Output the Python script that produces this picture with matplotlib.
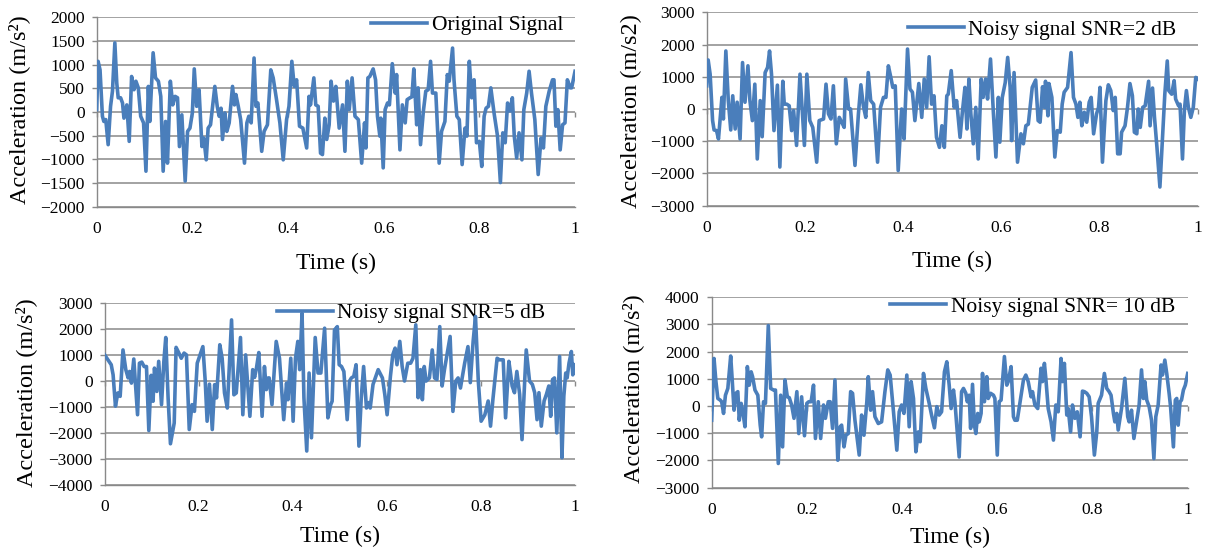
"""Acceleration time histories: the original signal and three noisy copies
(SNR = 2, 5 and 10 dB), drawn as a 2x2 grid of Excel-style line charts.

    python3 plot.py        # -> out.png
"""
import numpy as np
import matplotlib
matplotlib.use("Agg")
import matplotlib.pyplot as plt

LINE = "#4a7ebb"
GRID = "#898989"
INK = "#000000"

plt.rcParams.update({
    "font.family": "Liberation Serif",
    "font.size": 12,
    "axes.edgecolor": GRID,
    "axes.linewidth": 1.0,
    "grid.color": GRID,
    "grid.linewidth": 1.1,
    "xtick.color": INK,
    "ytick.color": GRID,
    "ytick.labelcolor": INK,
})

# ---- original signal -----------------------------------------------------
t_orig = [
    0.000, 0.003, 0.007, 0.012, 0.015, 0.019, 0.024, 0.029, 0.033, 0.038,
    0.042, 0.045, 0.050, 0.054, 0.057, 0.063, 0.068, 0.073, 0.078, 0.082,
    0.087, 0.092, 0.098, 0.103, 0.108, 0.111, 0.118, 0.123, 0.129, 0.134,
    0.139, 0.144, 0.148, 0.154, 0.159, 0.164, 0.169, 0.173, 0.178, 0.185,
    0.190, 0.195, 0.200, 0.204, 0.209, 0.214, 0.220, 0.224, 0.229, 0.233,
    0.238, 0.247, 0.252, 0.256, 0.260, 0.263, 0.268, 0.272, 0.277, 0.284,
    0.288, 0.291, 0.296, 0.301, 0.309, 0.314, 0.318, 0.323, 0.329, 0.333,
    0.337, 0.345, 0.350, 0.357, 0.364, 0.369, 0.376, 0.383, 0.390, 0.397,
    0.402, 0.408, 0.413, 0.418, 0.424, 0.431, 0.439, 0.444, 0.447, 0.454,
    0.458, 0.463, 0.468, 0.472, 0.477, 0.481, 0.486, 0.490, 0.495, 0.500,
    0.507, 0.514, 0.519, 0.524, 0.528, 0.534, 0.540, 0.547, 0.554, 0.560,
    0.563, 0.567, 0.571, 0.578, 0.583, 0.587, 0.592, 0.594, 0.599, 0.603,
    0.608, 0.612, 0.618, 0.624, 0.627, 0.634, 0.639, 0.645, 0.649, 0.655,
    0.659, 0.663, 0.669, 0.672, 0.677, 0.683, 0.688, 0.693, 0.698, 0.702,
    0.709, 0.716, 0.721, 0.728, 0.733, 0.737, 0.744, 0.747, 0.753, 0.758,
    0.764, 0.770, 0.774, 0.779, 0.784, 0.789, 0.794, 0.800, 0.805, 0.810,
    0.814, 0.819, 0.824, 0.831, 0.838, 0.844, 0.849, 0.854, 0.859, 0.864,
    0.869, 0.873, 0.878, 0.883, 0.889, 0.893, 0.899, 0.904, 0.909, 0.916,
    0.923, 0.929, 0.934, 0.939, 0.946, 0.953, 0.956, 0.960, 0.964, 0.969,
    0.974, 0.979, 0.984, 0.990, 0.993, 1.000,
]
acc_orig = [
    50, 1070, 890, -90, -200, -160, -690, 120, 440, 1460,
    610, 300, 300, 190, -130, 150, -620, 750, 470, 650,
    510, -90, -230, -1250, 540, -200, 1250, 720, 650, 330,
    -1250, -200, -1080, 650, 150, 330, 300, -730, -60, -1460,
    -410, -340, -20, 910, 120, 470, -730, -550, -1010, -340,
    -270, 540, 120, -90, 80, -580, -20, -410, -230, 540,
    150, 370, 120, -160, -1080, -230, -90, -230, 1140, 120,
    190, -830, -410, -270, 890, 720, 260, -230, -1010, -160,
    120, 1070, 540, 680, -300, -340, -760, 330, 150, 720,
    150, 120, -870, -900, -130, -580, -270, 650, 230, 540,
    -340, 150, -830, 650, 50, 720, -90, -160, -1080, -230,
    -760, 720, 750, 910, 680, -90, -510, -130, -1180, 50,
    190, 150, 1020, 400, 790, -800, 150, -230, 260, 300,
    320, 910, -270, 510, -690, 20, 440, 470, 1070, 400,
    400, -1080, -410, -200, 790, 650, 1350, 680, -90, -160,
    -1110, -340, -510, 1070, 300, 680, -650, -620, -1150, -90,
    80, 120, 510, -40, -510, -1490, -440, -650, 190, 20,
    300, -510, -970, -440, -1010, 50, 400, 860, 400, -160,
    -1320, -550, -760, 120, 440, 680, 680, -300, 50, -800,
    -270, -230, 680, 510, 510, 860,
]

# ---- SNR = 2 dB ----------------------------------------------------------
t_snr2 = [
    0.000, 0.003, 0.007, 0.012, 0.015, 0.020, 0.024, 0.027, 0.031, 0.034,
    0.039, 0.044, 0.049, 0.053, 0.058, 0.062, 0.068, 0.073, 0.078, 0.084,
    0.088, 0.093, 0.098, 0.103, 0.109, 0.113, 0.119, 0.124, 0.128, 0.132,
    0.137, 0.144, 0.149, 0.155, 0.158, 0.163, 0.168, 0.173, 0.177, 0.183,
    0.190, 0.196, 0.199, 0.204, 0.210, 0.216, 0.224, 0.229, 0.238, 0.243,
    0.248, 0.253, 0.258, 0.264, 0.270, 0.275, 0.280, 0.283, 0.289, 0.293,
    0.302, 0.309, 0.314, 0.319, 0.324, 0.329, 0.334, 0.340, 0.348, 0.354,
    0.360, 0.365, 0.370, 0.375, 0.379, 0.384, 0.390, 0.394, 0.397, 0.402,
    0.409, 0.414, 0.419, 0.424, 0.432, 0.438, 0.443, 0.448, 0.453, 0.458,
    0.463, 0.468, 0.474, 0.479, 0.484, 0.489, 0.492, 0.498, 0.504, 0.509,
    0.516, 0.521, 0.526, 0.530, 0.534, 0.538, 0.543, 0.548, 0.553, 0.559,
    0.563, 0.568, 0.572, 0.578, 0.584, 0.589, 0.594, 0.597, 0.602, 0.608,
    0.613, 0.618, 0.621, 0.626, 0.633, 0.640, 0.645, 0.650, 0.655, 0.663,
    0.670, 0.675, 0.679, 0.684, 0.688, 0.690, 0.695, 0.697, 0.703, 0.709,
    0.714, 0.720, 0.724, 0.728, 0.735, 0.742, 0.747, 0.752, 0.756, 0.760,
    0.764, 0.769, 0.774, 0.779, 0.783, 0.788, 0.794, 0.798, 0.801, 0.806,
    0.813, 0.818, 0.823, 0.828, 0.832, 0.837, 0.842, 0.845, 0.852, 0.857,
    0.862, 0.867, 0.871, 0.876, 0.879, 0.883, 0.888, 0.893, 0.900, 0.903,
    0.908, 0.912, 0.917, 0.923, 0.928, 0.933, 0.938, 0.941, 0.947, 0.952,
    0.955, 0.961, 0.964, 0.969, 0.973, 0.977, 0.981, 0.986, 0.991, 0.996,
    1.000,
]
acc_snr2 = [
    720, 1520, 1080, -360, -650, -670, -930, -360, 360, -310,
    1800, 260, -650, 410, -620, 210, -930, 1440, 210, 1340,
    260, -360, 770, -1550, 260, -860, 1130, 1290, 1800, 1080,
    -670, 740, -1800, 860, 150, 150, 100, -670, -50, -1130,
    1080, -360, -1130, 1080, -360, -570, -1650, -360, -310, 770,
    -150, -310, 720, -1080, -260, -410, -570, 930, 0, 0,
    -1750, -150, 750, 100, -260, 1130, 260, 150, -1650, 50,
    360, 360, 1340, 980, 670, 720, -1910, -820, 0, -930,
    1860, 620, 520, -360, 790, -260, 930, 50, 1620, 150,
    410, -880, -1190, -520, -1190, 410, 460, 1190, 50, 260,
    -880, -50, 670, -620, 930, -150, -1080, 50, -1550, 930,
    360, 930, 310, 1550, -150, -1490, 360, -1030, 360, 820,
    1600, 670, -980, 1130, -1650, -770, -1080, -520, -470, 670,
    900, -360, -410, 690, 50, 860, -210, 790, 360, -1490,
    -670, -720, 150, 520, 670, 1750, 360, 150, -260, 210,
    -520, -100, -410, 210, 360, -770, -150, 50, 670, -1650,
    260, 750, 570, -50, 360, -1390, -1390, -720, -520, 50,
    790, 410, -720, -770, 0, -570, 50, 100, 860, -520,
    650, -260, -1190, -2420, -980, 460, 1490, 570, 460, 880,
    310, 100, 150, -1550, 0, 570, 50, -260, 50, 980,
    930,
]

# ---- SNR = 5 dB ----------------------------------------------------------
t_snr5 = [
    0.000, 0.014, 0.018, 0.023, 0.028, 0.033, 0.039, 0.045, 0.050, 0.053,
    0.057, 0.062, 0.070, 0.074, 0.079, 0.084, 0.089, 0.094, 0.099, 0.103,
    0.106, 0.111, 0.115, 0.121, 0.126, 0.130, 0.135, 0.140, 0.148, 0.152,
    0.158, 0.163, 0.169, 0.174, 0.180, 0.186, 0.191, 0.197, 0.209, 0.214,
    0.218, 0.223, 0.229, 0.234, 0.238, 0.245, 0.250, 0.255, 0.261, 0.270,
    0.275, 0.280, 0.289, 0.294, 0.300, 0.309, 0.315, 0.319, 0.323, 0.328,
    0.335, 0.340, 0.344, 0.348, 0.350, 0.356, 0.365, 0.372, 0.381, 0.387,
    0.390, 0.396, 0.401, 0.406, 0.411, 0.415, 0.420, 0.424, 0.430, 0.435,
    0.440, 0.448, 0.454, 0.460, 0.468, 0.475, 0.481, 0.484, 0.489, 0.495,
    0.499, 0.504, 0.509, 0.516, 0.521, 0.525, 0.530, 0.535, 0.541, 0.546,
    0.551, 0.557, 0.562, 0.565, 0.571, 0.582, 0.591, 0.596, 0.601, 0.608,
    0.613, 0.618, 0.622, 0.628, 0.633, 0.638, 0.645, 0.651, 0.656, 0.662,
    0.667, 0.672, 0.676, 0.680, 0.684, 0.691, 0.697, 0.702, 0.707, 0.713,
    0.718, 0.723, 0.730, 0.735, 0.741, 0.747, 0.752, 0.757, 0.766, 0.773,
    0.778, 0.784, 0.789, 0.795, 0.801, 0.809, 0.816, 0.821, 0.826, 0.835,
    0.840, 0.848, 0.853, 0.860, 0.864, 0.867, 0.872, 0.877, 0.883, 0.888,
    0.894, 0.897, 0.904, 0.910, 0.915, 0.920, 0.924, 0.929, 0.935, 0.940,
    0.945, 0.949, 0.953, 0.957, 0.962, 0.968, 0.973, 0.977, 0.981, 0.984,
    0.988, 0.993, 0.996, 1.000,
]
acc_snr5 = [
    1010, 630, 240, -970, -460, -590, 1200, 440, 120, 370,
    -80, 850, -1300, 690, 730, 560, 560, -1910, 220, -780,
    500, -400, 760, -910, 760, 1680, -650, -2420, -1620, 1300,
    1080, 880, 1080, 1010, -1870, -910, -1170, 690, 1330, 0,
    -1550, -120, -1870, -140, -650, 1400, 880, -460, -1040, 2360,
    -530, -460, 1680, -1300, 1010, -1360, 440, 140, 500, 1100,
    -1360, 560, -330, 120, 120, -910, 1530, 880, -1490, -80,
    -720, 880, -1550, 880, 1530, 440, 2620, -650, -2700, 310,
    -2190, 1680, 310, 310, 2040, -1420, -910, -780, 1970, 2100,
    630, 560, 370, -1490, 0, 120, 180, 630, -2510, -640,
    560, -1040, -830, -1040, -130, 440, 120, -510, -1300, 180,
    1010, 1270, 630, 1530, 560, 0, 690, 690, 880, 2170,
    -640, 440, -720, 560, 0, 120, 1200, 120, 60, 2100,
    -190, 440, 1200, 1720, -1170, 0, 120, -270, 690, 1330,
    -60, 1530, 2490, 0, -1550, -1300, -770, -1740, -720, 880,
    820, 820, -1420, 760, 240, -190, -450, 370, -510, -2260,
    120, 1200, 0, -130, -450, -1490, -450, -1740, -770, -510,
    -190, -1360, 60, 120, -2000, 950, -2960, -580, 310, 120,
    690, 1140, 240, 630,
]

# ---- SNR = 10 dB ---------------------------------------------------------
t_snr10 = [
    0.000, 0.005, 0.009, 0.013, 0.018, 0.021, 0.025, 0.029, 0.034, 0.040,
    0.043, 0.047, 0.051, 0.055, 0.058, 0.062, 0.065, 0.070, 0.075, 0.079,
    0.083, 0.086, 0.091, 0.097, 0.102, 0.105, 0.109, 0.113, 0.119, 0.124,
    0.130, 0.134, 0.140, 0.145, 0.149, 0.154, 0.159, 0.163, 0.168, 0.173,
    0.179, 0.183, 0.189, 0.195, 0.200, 0.204, 0.209, 0.214, 0.218, 0.224,
    0.229, 0.235, 0.239, 0.245, 0.249, 0.254, 0.259, 0.265, 0.270, 0.273,
    0.278, 0.282, 0.287, 0.292, 0.296, 0.301, 0.310, 0.315, 0.320, 0.326,
    0.329, 0.334, 0.338, 0.343, 0.350, 0.357, 0.364, 0.370, 0.375, 0.382,
    0.389, 0.394, 0.399, 0.404, 0.410, 0.415, 0.419, 0.424, 0.429, 0.434,
    0.438, 0.445, 0.450, 0.457, 0.462, 0.468, 0.473, 0.478, 0.483, 0.489,
    0.494, 0.499, 0.503, 0.508, 0.511, 0.520, 0.525, 0.529, 0.534, 0.537,
    0.541, 0.544, 0.548, 0.552, 0.555, 0.559, 0.562, 0.566, 0.569, 0.573,
    0.578, 0.581, 0.586, 0.592, 0.595, 0.600, 0.604, 0.608, 0.615, 0.620,
    0.623, 0.629, 0.634, 0.637, 0.642, 0.648, 0.655, 0.660, 0.665, 0.671,
    0.674, 0.679, 0.685, 0.692, 0.695, 0.699, 0.702, 0.707, 0.713, 0.718,
    0.723, 0.728, 0.734, 0.737, 0.741, 0.746, 0.749, 0.754, 0.758, 0.763,
    0.768, 0.774, 0.779, 0.783, 0.788, 0.793, 0.798, 0.804, 0.809, 0.812,
    0.819, 0.825, 0.830, 0.835, 0.839, 0.844, 0.847, 0.851, 0.854, 0.861,
    0.868, 0.874, 0.877, 0.882, 0.887, 0.893, 0.898, 0.903, 0.907, 0.910,
    0.914, 0.919, 0.924, 0.929, 0.933, 0.938, 0.944, 0.947, 0.952, 0.956,
    0.961, 0.964, 0.970, 0.974, 0.977, 0.980, 0.984, 0.987, 0.991, 0.995,
    1.000,
]
acc_snr10 = [
    -520, 1750, 900, 280, 220, 160, -270, 400, 650, 1840,
    1020, -150, 470, 530, -520, 100, -150, -760, 1450, 770,
    1260, 1080, 590, 400, -700, -1130, 160, 100, 2960, 650,
    590, 590, -2110, 400, -1500, 960, 340, 310, 40, -450,
    530, -1010, 340, -1090, 100, 160, 160, 770, -1190, 160,
    -1190, 40, -450, 160, 160, -820, 960, -1990, -760, -700,
    -1500, -1070, -1010, 530, 470, -520, -1800, -330, -1070, 160,
    1080, -150, 530, -390, -640, -580, 530, 1330, 1140, -210,
    -1620, -210, 40, -270, 1140, -760, 900, 280, -1680, -950,
    -1310, 1200, 650, 100, -330, -800, -20, -330, -210, 1260,
    1630, 770, -90, 590, 160, -1870, 530, 650, 470, 160,
    400, -820, 800, -700, -1010, -270, -580, -270, 1200, 160,
    1080, 280, 470, 400, 280, -1800, 160, 220, 1820, 770,
    900, 1450, -390, -520, -520, 160, 960, 1140, 900, 340,
    530, 40, -90, 1390, 900, 1570, 1020, -90, -580, -1250,
    40, -210, 1750, 900, 1570, -330, -90, -950, 40, -450,
    -210, -1130, 550, 530, 470, 340, -390, -1800, -950, 100,
    400, 1200, 650, 530, 400, -270, -580, -270, -880, -90,
    1020, -390, -580, -150, -1190, -520, 40, 1330, 280, 900,
    220, -20, -520, -1930, -390, 40, 1510, 1140, 1690, 1200,
    470, -20, -1500, 220, 280, -700, 160, 220, 590, 770,
    1200,
]

# One entry per panel: data, legend text, y label, y range and layout.
PANELS = [
    dict(t=t_orig, a=acc_orig, label="Original Signal",
         ylabel="Acceleration (m/s²)", ylim=(-2000, 2000), step=500,
         rect=[0.0801, 0.6269, 0.3963, 0.3419],
         leg=(0.975, 0.959), ylab=(-0.139, 0.51), xlab=-0.245),
    dict(t=t_snr2, a=acc_snr2, label="Noisy signal SNR=2 dB",
         ylabel="Acceleration (m/s2)", ylim=(-3000, 3000), step=1000,
         rect=[0.5855, 0.6287, 0.4068, 0.3491],
         leg=(0.956, 0.910), ylab=(-0.132, 0.49), xlab=-0.232),
    dict(t=t_snr5, a=acc_snr5, label="Noisy signal SNR=5 dB",
         ylabel="Acceleration (m/s²)", ylim=(-4000, 3000), step=1000,
         rect=[0.0867, 0.1251, 0.3894, 0.3274],
         leg=(0.9375, 0.9465), ylab=(-0.143, 0.51), xlab=-0.225),
    dict(t=t_snr10, a=acc_snr10, label="Noisy signal SNR= 10 dB",
         ylabel="Acceleration (m/s²)", ylim=(-3000, 4000), step=1000,
         rect=[0.5896, 0.1197, 0.3944, 0.3437],
         leg=(0.973, 0.949), ylab=(-0.141, 0.52), xlab=-0.208),
]

XTICKS = np.arange(0, 1.01, 0.2)


def _panel(fig, p):
    ax = fig.add_axes(p["rect"])
    ax.plot(p["t"], p["a"], color=LINE, lw=2.6, zorder=3,
            solid_joinstyle="round", label=p["label"])

    lo, hi = p["ylim"]
    ax.set_xlim(0, 1)
    ax.set_ylim(lo, hi)
    ax.set_yticks(np.arange(lo, hi + 1, p["step"]))
    ax.set_xticks(XTICKS)
    ax.set_xticklabels(["0", "0.2", "0.4", "0.6", "0.8", "1"])
    ax.tick_params(axis="x", length=0, pad=10.5, labelsize=12.5)
    ax.tick_params(axis="y", direction="out", length=3.6, width=1.0,
                   pad=5.0, labelsize=12.5)

    ax.grid(axis="y", zorder=0)
    ax.set_axisbelow(True)
    for s in ("top", "right"):
        ax.spines[s].set_visible(False)

    # small tick marks on the horizontal axis, which crosses at zero
    ax.plot(XTICKS, np.zeros_like(XTICKS), ls="none", marker=3, ms=3.5,
            mew=1.0, mec=GRID, clip_on=False, zorder=2)

    ax.set_ylabel(p["ylabel"], fontsize=17.5)
    ax.yaxis.set_label_coords(*p["ylab"])
    ax.set_xlabel("Time (s)", fontsize=17)
    ax.xaxis.set_label_coords(0.5, p["xlab"])

    leg = ax.legend(loc="center right", bbox_to_anchor=p["leg"],
                    frameon=False, fontsize=15.5, handlelength=2.6,
                    handletextpad=0.2, borderpad=0, borderaxespad=0)
    leg.set_zorder(1)
    return ax


def main():
    fig = plt.figure(figsize=(12.07, 5.54), dpi=100)
    for p in PANELS:
        _panel(fig, p)
    fig.savefig("out.png", dpi=100, facecolor="white")
    plt.close(fig)


if __name__ == "__main__":
    main()
